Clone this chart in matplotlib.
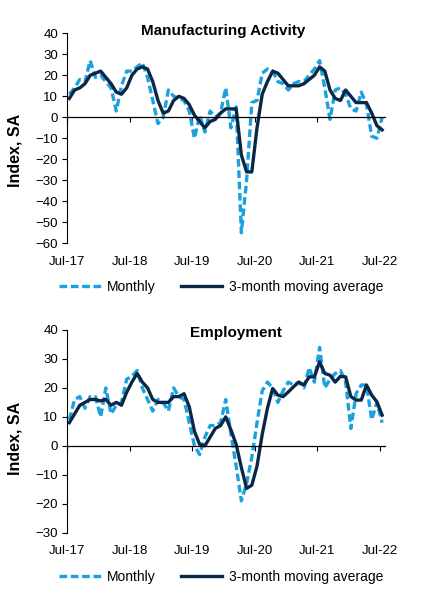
import matplotlib
matplotlib.use("Agg")
import matplotlib.pyplot as plt

plt.rcParams['font.family'] = ['Liberation Sans', 'DejaVu Sans']

# ---------------- data (monthly, Jul-17 .. Jul-22) ----------------
tick_labels = ["Jul-17", "Jul-18", "Jul-19", "Jul-20", "Jul-21", "Jul-22"]

mfg_monthly = [11, 14, 18, 17, 27, 19, 20, 17, 14, 3,
               15, 22, 22, 24, 26, 19, 8, -3, 0, 13,
               10, 9, 8, 3, -10, 1, -7, 3, 0, 2,
               14, -5, 5, -55, -30, 7, 8, 21, 23, 22,
               17, 16, 13, 16, 17, 17, 20, 23, 27, 14,
               -1, 13, 14, 11, 4, 3, 12, 6, -9, -10,
               0]
mfg_ma3 = [9, 13, 14, 16, 20, 21, 22, 19, 16, 12,
           11, 14, 20, 23, 24, 23, 17, 8, 2, 3,
           8, 10, 9, 6, 1, -2, -5, -2, -1, 2,
           4, 4, 4, -18, -26, -26, -5, 11, 17, 22,
           21, 18, 15, 15, 15, 16, 18, 20, 24, 22,
           13, 9, 8, 13, 10, 7, 7, 7, 2, -4,
           -6]

emp_monthly = [9, 16, 17, 13, 17, 17, 10, 20, 11, 14,
               15, 23, 24, 26, 20, 16, 12, 16, 15, 12,
               20, 17, 16, 8, 0, -3, 3, 7, 7, 8,
               16, 4, -7, -19, -13, -4, 8, 19, 22, 20,
               15, 19, 22, 21, 22, 20, 27, 22, 34, 20,
               23, 25, 26, 22, 6, 18, 21, 21, 9, 15,
               8]
emp_ma3 = [8, 11, 14, 15, 16, 16, 15.5, 16, 14, 15,
           14, 18.5, 22, 25, 22, 20, 16, 15, 15, 15,
           17, 17, 18, 13.5, 5, 0.5, 0, 3, 6, 7,
           10, 5.5, 0.5, -7.5, -14.7, -13.6, -7, 4, 13, 19.8,
           17.5, 17, 18.6, 20.4, 22, 21, 23.8, 23.8, 29, 25,
           24.4, 22, 24, 23.8, 17, 15.8, 15.8, 21, 17.5, 15.2,
           10.6]

LIGHT = "#19a2de"
NAVY = "#0b2748"

W, H = 436, 597
fig = plt.figure(figsize=(W / 100, H / 100), dpi=100)


def px(x0, y_top, x1, y_bot):
    return [x0 / W, 1 - y_bot / H, (x1 - x0) / W, (y_bot - y_top) / H]


def panel(rect, monthly, ma, ylim, title, title_xy, ylabel_y, legend_y):
    ax = fig.add_axes(rect)
    n = len(monthly)
    xs = [i + 0.45 for i in range(n)]
    ax.plot(xs, monthly, color=LIGHT, lw=2.4, linestyle=(0, (2.3, 1.1)),
            label="Monthly", dash_capstyle="butt")
    ax.plot(xs, ma, color=NAVY, lw=2.4, label="3-month moving average",
            solid_joinstyle="round")
    ax.set_xlim(0, 61)
    ax.set_ylim(*ylim)
    ax.set_yticks(range(ylim[0], ylim[1] + 1, 10))
    ax.tick_params(axis="y", direction="out", length=3.5, width=0.8,
                   labelsize=9.5, pad=3, colors="black")
    for s in ("top", "right"):
        ax.spines[s].set_visible(False)
    ax.spines["left"].set_linewidth(0.8)
    ax.spines["bottom"].set_position(("data", 0))
    ax.spines["bottom"].set_linewidth(0.9)
    ax.set_xticks([0, 12, 24, 36, 48, 60])
    ax.tick_params(axis="x", direction="out", length=3.5, width=0.8,
                   labelbottom=False)
    sec = ax.secondary_xaxis(0.0)
    sec.set_xticks([0, 12, 24, 36, 48, 60])
    sec.set_xticklabels(tick_labels)
    sec.tick_params(length=0, labelsize=9.5, pad=9)
    sec.spines["bottom"].set_visible(False)

    fig.text(title_xy[0] / W, 1 - title_xy[1] / H, title, ha="center",
             va="center", fontsize=11, fontweight="bold")
    fig.text(15 / W, 1 - ylabel_y / H, "Index, SA", rotation=90,
             ha="center", va="center", fontsize=11.5, fontweight="bold")
    fig.legend(*ax.get_legend_handles_labels(), loc="center",
               bbox_to_anchor=(221 / W, 1 - legend_y / H), ncol=2,
               frameon=False, fontsize=10, handlelength=3.0,
               handletextpad=0.45, columnspacing=1.8, borderaxespad=0)
    return ax


panel(px(67, 33.3, 385, 243.3), mfg_monthly, mfg_ma3, (-60, 40),
      "Manufacturing Activity", (223, 31), 150, 287)
panel(px(67, 330, 385, 532.7), emp_monthly, emp_ma3, (-30, 40),
      "Employment", (236, 333), 438, 577)

fig.savefig("out.png", dpi=100)
